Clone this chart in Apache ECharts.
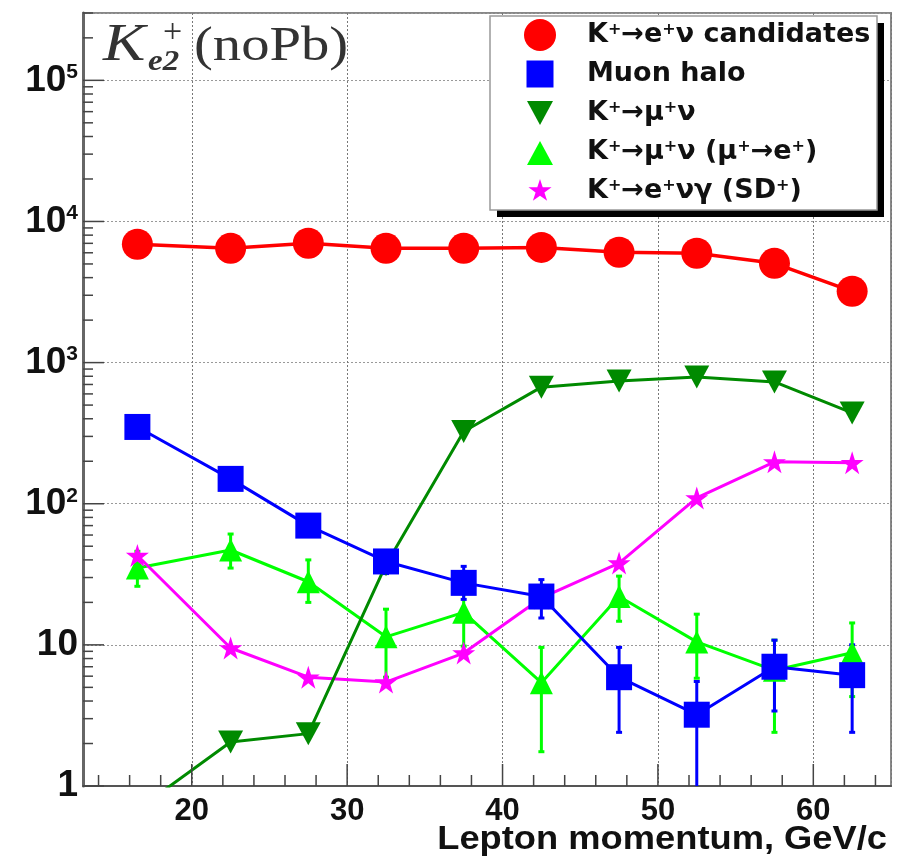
<!DOCTYPE html>
<html>
<head>
<meta charset="utf-8">
<script src="https://cdn.jsdelivr.net/npm/echarts@6/dist/echarts.min.js"></script>
<style>
html,body{margin:0;padding:0;background:#fff;}
#chart{width:906px;height:859px;}
</style>
</head>
<body>
<div id="chart"></div>
<script>
// ---- data ----
const xCenters = [16.5, 22.5, 27.5, 32.5, 37.5, 42.5, 47.5, 52.5, 57.5, 62.5];
const ke2Candidates = [6900, 6450, 7000, 6450, 6450, 6550, 6050, 5950, 5050, 3200];
const muonHalo     = [350, 150, 70, 39, 27.5, 22, 5.9, 3.2, 7, 6.1];
const muonHaloLow  = [331, 138, 62, 32, 21, 15.5, 2.4, 0.5, 3.4, 2.4];
const muonHaloHigh = [369, 162, 79, 46, 36, 29, 9.6, 5.5, 10.8, 10];
const kmu2 = [0.68, 2.05, 2.35, 37, 325, 670, 740, 790, 730, 440];
const kmu2Decay     = [35, 47, 28, 11.4, 17, 5.4, 22, 10.5, 6.6, 8.8];
const kmu2DecayLow  = [26, 35, 20, 5.9, 9.8, 1.75, 14.7, 5.8, 2.4, 4.3];
const kmu2DecayHigh = [46, 61, 40, 17.9, 24, 9.6, 30.7, 16.5, 10.8, 14.3];
const ke2gSD = [43, 9.5, 5.9, 5.45, 8.75, 21.5, 38, 110, 198, 195];

const seriesNames = ['K⁺→e⁺ν candidates', 'Muon halo', 'K⁺→μ⁺ν', 'K⁺→μ⁺ν (μ⁺→e⁺)', 'K⁺→e⁺νγ (SD⁺)'];

// axis ranges and tick values
const xRange = [13, 65];
const yRange = [1, 300000];
const xMajorTicks = [20, 30, 40, 50, 60];
const xMinorTicks = [14, 16, 18, 22, 24, 26, 28, 32, 34, 36, 38, 42, 44, 46, 48, 52, 54, 56, 58, 62, 64];
const yMajorTicks = [1, 10, 100, 1000, 10000, 100000];
const yMinorTicks = [];
for (const d of yMajorTicks) for (let m = 2; m <= 9; m++) if (d * m <= yRange[1]) yMinorTicks.push(d * m);

const pair = (xs, ys) => xs.map((x, i) => [x, ys[i]]);
const errData = (xs, lo, hi) => xs.map((x, i) => [x, lo[i], hi[i]]);

// marker shapes
const STAR = 'path://M50,0 L61.2,34.5 L97.6,34.5 L68.2,55.9 L79.4,90.5 L50,69.1 L20.6,90.5 L31.8,55.9 L2.4,34.5 L38.8,34.5 Z';
const DOWN_TRI = 'path://M0,0 L100,0 L50,90 Z';
// legend icons (padded inside a common box so they keep ROOT-like relative sizes)
const ICON_SQUARE = 'path://M0,0 M32,32 M2.5,2.5 L29.5,2.5 L29.5,29.5 L2.5,29.5 Z';
const ICON_UP = 'path://M0,0 M32,32 M3,29 L29,29 L16,5 Z';
const ICON_DOWN = 'path://M0,0 M32,32 M3,4 L29,4 L16,28 Z';
const ICON_STAR = 'path://M-16,-16 M116,116 M50,0 L61.2,34.5 L97.6,34.5 L68.2,55.9 L79.4,90.5 L50,69.1 L20.6,90.5 L31.8,55.9 L2.4,34.5 L38.8,34.5 Z';

function errRenderer(color) {
  return function (params, api) {
    const x = api.value(0);
    const lo = Math.max(api.value(1), yRange[0]);
    const hi = Math.min(api.value(2), yRange[1]);
    const p1 = api.coord([x, hi]);
    const p2 = api.coord([x, lo]);
    const st = { stroke: color, lineWidth: 3 };
    const children = [
      { type: 'line', shape: { x1: p1[0], y1: p1[1], x2: p2[0], y2: p2[1] }, style: st }
    ];
    if (api.value(2) <= yRange[1]) children.push({ type: 'line', shape: { x1: p1[0] - 3, y1: p1[1], x2: p1[0] + 3, y2: p1[1] }, style: st });
    if (api.value(1) >= yRange[0]) children.push({ type: 'line', shape: { x1: p2[0] - 3, y1: p2[1], x2: p2[0] + 3, y2: p2[1] }, style: st });
    return { type: 'group', children };
  };
}

function tickRenderer(params, api) {
  const children = [];
  const st = { stroke: '#444', lineWidth: 1.5 };
  const addX = (v, len) => {
    const p = api.coord([v, yRange[0]]);
    children.push({ type: 'line', shape: { x1: p[0], y1: p[1], x2: p[0], y2: p[1] - len }, style: st });
  };
  const addY = (v, len) => {
    const p = api.coord([xRange[0], v]);
    children.push({ type: 'line', shape: { x1: p[0], y1: p[1], x2: p[0] + len, y2: p[1] }, style: st });
  };
  xMajorTicks.forEach(v => addX(v, 22));
  xMinorTicks.forEach(v => addX(v, 11));
  yMajorTicks.forEach(v => addY(v, 21));
  yMinorTicks.forEach(v => addY(v, 10));
  return { type: 'group', children };
}

const chart = echarts.init(document.getElementById('chart'), null, { renderer: 'canvas' });

const legendRich = {
  t: { fontFamily: 'DejaVu Sans', fontWeight: 'bold', fontSize: 27, color: '#111' },
  s: { fontFamily: 'DejaVu Sans', fontWeight: 'bold', fontSize: 16, color: '#111', verticalAlign: 'top' }
};

const option = {
  animation: false,
  backgroundColor: '#fff',
  grid: { left: 83, right: 15, top: 13, bottom: 73, show: true, borderColor: '#888', borderWidth: 2, backgroundColor: 'transparent' },
  xAxis: {
    type: 'value', min: xRange[0], max: xRange[1], splitNumber: 5,
    axisLine: { show: true, onZero: false, lineStyle: { color: '#555', width: 2 } },
    axisTick: { show: false },
    splitLine: { show: true, lineStyle: { color: '#777', width: 1, type: [2, 2] } },
    axisLabel: {
      showMinLabel: false, showMaxLabel: false, margin: 10,
      fontFamily: 'Liberation Sans', fontWeight: 'bold', fontSize: 31, color: '#111'
    }
  },
  yAxis: {
    type: 'log', logBase: 10, min: yRange[0], max: yRange[1],
    axisLine: { show: true, lineStyle: { color: '#666', width: 3 } },
    axisTick: { show: false },
    splitLine: { show: true, lineStyle: { color: '#999', width: 1, type: [2, 2] } },
    axisLabel: {
      showMaxLabel: false, margin: 5,
      formatter: function (v) {
        const e = Math.round(Math.log10(v));
        if (e === 0) return '{b|1}';
        if (e === 1) return '{b|10}';
        return '{b|10}{s|' + e + '}';
      },
      rich: {
        b: { fontFamily: 'Liberation Sans', fontWeight: 'bold', fontSize: 37, color: '#111' },
        s: { fontFamily: 'Liberation Sans', fontWeight: 'bold', fontSize: 21, color: '#111', verticalAlign: 'top' }
      }
    }
  },
  legend: {
    orient: 'vertical', left: 516, top: 16, z: 10,
    padding: [3, 10, 3, 8],
    itemWidth: 84, itemHeight: 32, itemGap: 7,
    backgroundColor: 'transparent', borderWidth: 0,
    data: [
      { name: seriesNames[0], icon: 'circle' },
      { name: seriesNames[1], icon: ICON_SQUARE },
      { name: seriesNames[2], icon: ICON_DOWN },
      { name: seriesNames[3], icon: ICON_UP },
      { name: seriesNames[4], icon: ICON_STAR }
    ],
    formatter: function (name) {
      return name.split('⁺').map(p => p ? '{t|' + p + '}' : '').join('{s|+}');
    },
    textStyle: { rich: legendRich }
  },
  graphic: [
    // legend frame with ROOT-style drop shadow
    { type: 'rect', z: 5, shape: { x: 497, y: 23, width: 387, height: 194 }, style: { fill: '#000' } },
    { type: 'rect', z: 6, shape: { x: 490, y: 16, width: 387, height: 194 }, style: { fill: '#fff', stroke: '#999', lineWidth: 1.5 } },
    // title
    { type: 'text', x: 103, y: 46, scaleX: 1.22, style: { text: 'K', font: 'italic 52px "Liberation Serif"', fill: '#333', textVerticalAlign: 'middle' } },
    { type: 'text', x: 163, y: 33, style: { text: '+', font: '34px "Liberation Serif"', fill: '#333', textVerticalAlign: 'middle' } },
    { type: 'text', x: 148, y: 62, scaleX: 1.1, style: { text: 'e2', font: 'bold italic 30px "Liberation Serif"', fill: '#333', textVerticalAlign: 'middle' } },
    { type: 'text', x: 194, y: 47, scaleX: 1.18, style: { text: '(noPb)', font: '48px "Liberation Serif"', fill: '#333', textVerticalAlign: 'middle' } },
    // x axis title
    { type: 'text', x: 887, y: 840, scaleX: 1.1, style: { text: 'Lepton momentum, GeV/c', font: 'bold 33px "Liberation Sans"', fill: '#111', textAlign: 'right', textVerticalAlign: 'middle' } }
  ],
  series: [
    {
      type: 'custom', name: 'ticks', coordinateSystem: 'cartesian2d', silent: true, z: 10,
      renderItem: tickRenderer, data: [[xRange[0], yRange[0]]]
    },
    {
      type: 'custom', name: 'kmu2DecayErr', coordinateSystem: 'cartesian2d', silent: true,
      renderItem: errRenderer('#00ff00'), data: errData(xCenters, kmu2DecayLow, kmu2DecayHigh)
    },
    {
      type: 'line', name: seriesNames[3], data: pair(xCenters, kmu2Decay),
      symbol: 'triangle', symbolSize: 23, color: '#00ff00',
      lineStyle: { width: 3, color: '#00ff00' }, itemStyle: { color: '#00ff00' }
    },
    {
      type: 'line', name: seriesNames[4], data: pair(xCenters, ke2gSD),
      symbol: STAR, symbolSize: 23, color: '#ff00ff',
      lineStyle: { width: 3, color: '#ff00ff' }, itemStyle: { color: '#ff00ff' }
    },
    {
      type: 'line', name: seriesNames[2], data: pair(xCenters, kmu2), clip: true,
      symbol: DOWN_TRI, symbolSize: [25, 23], color: '#008a00',
      lineStyle: { width: 3, color: '#008a00' }, itemStyle: { color: '#008a00' }
    },
    {
      type: 'custom', name: 'muonHaloErr', coordinateSystem: 'cartesian2d', silent: true,
      renderItem: errRenderer('#0000ff'), data: errData(xCenters, muonHaloLow, muonHaloHigh)
    },
    {
      type: 'line', name: seriesNames[1], data: pair(xCenters, muonHalo),
      symbol: 'rect', symbolSize: 26, color: '#0000ff',
      lineStyle: { width: 3, color: '#0000ff' }, itemStyle: { color: '#0000ff' }
    },
    {
      type: 'line', name: seriesNames[0], data: pair(xCenters, ke2Candidates),
      symbol: 'circle', symbolSize: 31, color: '#ff0000',
      lineStyle: { width: 3.5, color: '#ff0000' }, itemStyle: { color: '#ff0000' }
    }
  ]
};
chart.setOption(option);
</script>
</body>
</html>
